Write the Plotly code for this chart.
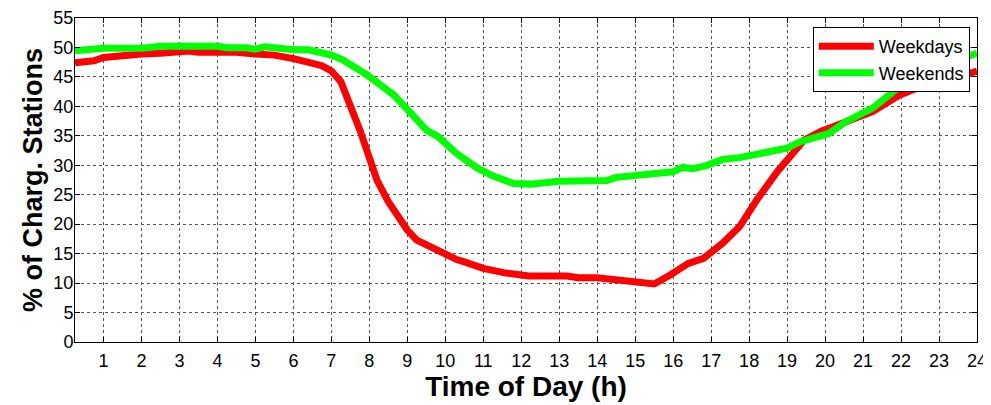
import plotly.graph_objects as go

weekday_hours = [0.25, 0.75, 1, 1.5, 2, 2.5, 3, 3.25, 3.5, 4, 4.5, 5, 5.5, 6, 6.5, 6.75, 7, 7.25,
                 7.75, 8.2, 8.5, 9, 9.25, 9.75, 10.3, 10.5, 11, 11.6, 12.2, 13.2, 13.5, 14, 14.7,
                 15.3, 15.5, 15.9, 16.4, 16.8, 17.3, 17.75, 18.2, 18.75, 19.1, 19.45, 19.9, 20.55,
                 21.25, 21.95, 22.5, 23, 23.5, 24]
weekday_pct = [47.4, 47.75, 48.3, 48.7, 48.9, 49.0, 49.3, 49.4, 49.2, 49.2, 49.2, 48.9, 48.7, 48.1,
               47.4, 46.9, 46.0, 44.2, 36.0, 27.5, 23.8, 19.0, 17.3, 15.6, 14.0, 13.6, 12.5, 11.7,
               11.2, 11.2, 10.9, 10.9, 10.35, 9.85, 9.85, 11.3, 13.35, 14.2, 16.75, 19.6, 24.1,
               29.0, 31.7, 34.3, 35.8, 37.4, 39.1, 41.9, 43.3, 43.9, 44.8, 46.0]

weekend_hours = [0.25, 0.75, 1, 2, 2.5, 4, 4.25, 4.75, 5, 5.25, 5.75, 6, 6.4, 6.65, 7, 7.3, 7.95,
                 8.65, 9.1, 9.5, 9.8, 10.3, 10.85, 11.25, 11.8, 12.25, 13, 14.25, 14.5, 15.3, 16,
                 16.25, 16.5, 16.85, 17.3, 17.75, 18.7, 19, 19.35, 19.75, 20.1, 20.55, 21.25,
                 21.95, 22.5, 23, 23.5, 24]
weekend_pct = [49.45, 49.6, 49.85, 49.85, 50.2, 50.2, 49.95, 49.95, 49.7, 50.1, 49.7, 49.6, 49.6,
               49.2, 48.7, 47.9, 45.3, 41.9, 38.8, 36.0, 34.9, 32.0, 29.5, 28.2, 26.9, 26.8, 27.3,
               27.4, 27.95, 28.5, 28.9, 29.65, 29.4, 29.9, 31.0, 31.3, 32.3, 32.9, 34.0, 34.85,
               35.4, 37.4, 39.7, 43.3, 45.3, 46.8, 48.0, 49.0]

x_ticks = list(range(1, 25))
y_ticks = list(range(0, 60, 5))

FONT = "Liberation Sans, Arial, sans-serif"

fig = go.Figure()
fig.add_trace(go.Scatter(x=weekday_hours, y=weekday_pct, mode="lines", name="Weekdays",
                         line=dict(color="#ff0000", width=7)))
fig.add_trace(go.Scatter(x=weekend_hours, y=weekend_pct, mode="lines", name="Weekends",
                         line=dict(color="#00ff00", width=7)))

axis_common = dict(showline=True, linecolor="black", linewidth=1, mirror="ticks",
                   ticks="inside", ticklen=5, tickcolor="black", automargin=False,
                   showgrid=True, gridcolor="#555555", gridwidth=1, griddash="dot",
                   zeroline=False, tickfont=dict(family=FONT, size=18, color="black"))

# the page body has an 8px margin, so the plot box is offset by 8px in the page
fig.update_layout(
    width=991, height=405,
    margin=dict(l=67, r=22, t=10, b=71),
    paper_bgcolor="white", plot_bgcolor="white",
    font=dict(family=FONT, color="black"),
    xaxis=dict(range=[0.25, 24], tickvals=x_ticks, ticktext=[str(v) for v in x_ticks],
               ticklabelstandoff=2,
               title=dict(text="<b>Time of Day (h)</b>", font=dict(family=FONT, size=28),
                          standoff=3),
               **axis_common),
    yaxis=dict(range=[0, 55], tickvals=y_ticks, ticktext=[str(v) for v in y_ticks],
               ticklabelstandoff=-3,
               title=dict(text="<b>% of Charg. Stations</b>", font=dict(family=FONT, size=27),
                          standoff=2),
               **axis_common),
    legend=dict(x=0.992, y=0.972, xanchor="right", yanchor="top",
                bgcolor="white", bordercolor="black", borderwidth=1,
                font=dict(family=FONT, size=18, color="black"),
                itemwidth=55, tracegroupgap=0),
    showlegend=True,
)

fig.write_html("out.html")
